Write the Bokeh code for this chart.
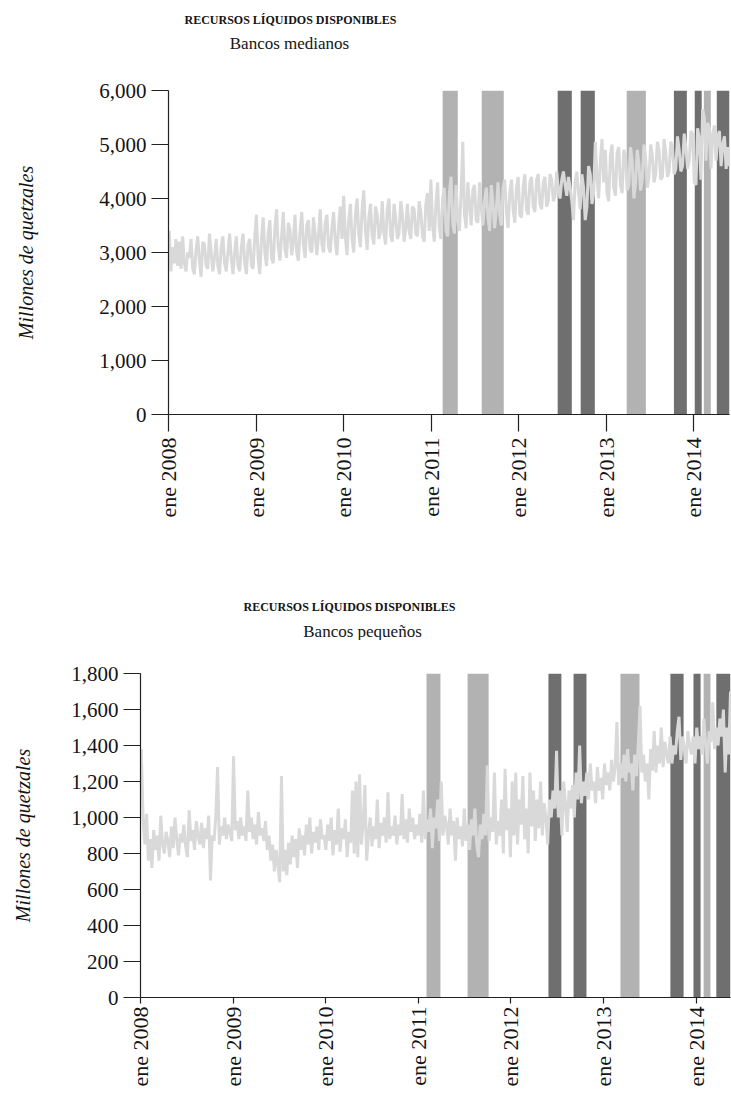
from math import pi

import pandas as pd
from bokeh.core.properties import value
from bokeh.embed import file_html
from bokeh.layouts import column
from bokeh.models import (DatetimeTickFormatter, FixedTicker,
                          NumeralTickFormatter, Range1d)
from bokeh.plotting import figure
from bokeh.resources import INLINE

FONT = "Liberation Serif"
TITULO = "RECURSOS LÍQUIDOS DISPONIBLES"
ETIQUETA_Y = "Millones de quetzales"
INICIO_EJE = "2008-01-01"
INICIO_SERIE = "2008-01-04"          # first weekly observation
TICKS_ANIO = ["2008-01-01", "2009-01-01", "2010-01-01", "2011-01-01",
              "2012-01-01", "2013-01-01", "2014-01-01"]

# Weekly liquid resources, medium-sized banks (millions of quetzales)
medianos_2008 = [3400, 2650, 3100, 2800, 3250, 2750, 3200, 2700, 3300, 2800, 2650, 3000,
                 2900, 3250, 2700, 2600, 3050, 3300, 2850, 2550, 3200, 3150, 2750, 2700,
                 3350, 3000, 2650, 2900, 3250, 2750, 2600, 3100, 3300, 2800, 2650, 3000,
                 3350, 2900, 2600, 3000, 3300, 2750, 2650, 3100, 3350, 2800, 2600, 3150,
                 3250, 2750, 2700, 3300]
medianos_2009 = [3700, 2900, 2600, 3250, 3650, 3000, 2750, 3350, 3600, 2900, 2800, 3450,
                 3800, 3100, 2850, 3300, 3750, 3050, 2900, 3550, 3400, 2950, 3200, 3700,
                 3000, 2850, 3400, 3750, 3150, 2900, 3500, 3600, 3050, 3000, 3650, 3350,
                 2950, 3300, 3800, 3150, 3000, 3550, 3700, 3100, 3000, 3450, 3750, 3200,
                 2950, 3500, 3850, 3250]
medianos_2010 = [4050, 3300, 2950, 3600, 3900, 3250, 3000, 3700, 4000, 3350, 3100, 3800,
                 4150, 3400, 3050, 3650, 3900, 3300, 3150, 3850, 3700, 3250, 3400, 3950,
                 3350, 3150, 3800, 4000, 3300, 3200, 3900, 3650, 3250, 3350, 3950, 3700,
                 3200, 3450, 3900, 3400, 3250, 3850, 3800, 3350, 3300, 3950, 3750, 3300,
                 3200, 3900, 4100, 3400]
medianos_2011 = [4350, 3500, 3200, 3900, 4300, 3450, 3250, 4000, 4200, 3400, 3300, 4100,
                 4400, 3550, 3350, 4250, 3600, 3400, 4100, 5050, 3700, 3450, 4300, 3900,
                 3500, 4150, 4250, 3600, 3550, 4300, 3850, 3500, 3950, 4200, 3650, 3400,
                 4250, 3900, 3450, 3800, 4300, 3700, 3500, 4200, 4350, 3750, 3450, 4100,
                 4350, 3800, 3550, 4200]
medianos_2012 = [4400, 3700, 3650, 4200, 4450, 3800, 3700, 4300, 4400, 3850, 3750, 4350,
                 4450, 3900, 3800, 4300, 4400, 3850, 3950, 4450, 4350, 3950, 4050, 4500,
                 4150, 4000, 4350, 4500, 4250, 4050, 4400, 4200, 3950, 3600, 4300, 4500,
                 4100, 3800, 4450, 4200, 3600, 3850, 4600, 4450, 3900, 4100, 5050, 4400,
                 4000, 4700, 5100, 4300]
medianos_2013 = [4900, 4100, 3950, 4800, 5000, 4200, 4050, 4850, 4950, 4250, 4100, 4900,
                 4800, 4150, 4250, 4950, 4700, 4000, 4300, 4900, 4650, 4150, 4350, 5000,
                 4750, 4200, 4400, 5000, 4800, 4300, 4450, 5050, 4900, 4350, 4400, 5100,
                 4850, 4400, 4500, 5050, 4950, 4450, 4550, 5150, 4900, 4500, 4600, 5200,
                 4950, 4550, 4700, 5250]
medianos_2014 = [5200, 4300, 4250, 5300, 5100, 4350, 5650, 5500, 4700, 5400, 5300, 4550,
                 5200, 5350, 4700, 5150, 5250, 4600, 5000, 5150, 4550, 4950, 4600]

# Weekly liquid resources, small banks (millions of quetzales)
pequenos_2008 = [1380, 1000, 850, 1020, 760, 880, 720, 930, 820, 900, 760, 1010, 850,
                 800, 920, 870, 780, 950, 830, 1000, 880, 790, 910, 860, 960, 840,
                 780, 1040, 870, 930, 820, 980, 900, 850, 970, 830, 940, 880, 1010,
                 650, 900, 870, 1000, 1280, 850, 950, 900, 1000, 880, 960, 920, 870]
pequenos_2009 = [1340, 930, 980, 880, 1000, 900, 950, 870, 1150, 920, 1000, 880, 960,
                 850, 1030, 900, 940, 870, 980, 820, 900, 760, 850, 700, 820, 740,
                 640, 1230, 700, 820, 680, 860, 740, 900, 780, 880, 720, 940, 820,
                 900, 790, 960, 850, 1000, 800, 920, 860, 950, 820, 990, 880, 900]
pequenos_2010 = [820, 960, 870, 1000, 790, 930, 850, 1050, 810, 940, 880, 990, 780,
                 920, 860, 1150, 800, 1200, 780, 1240, 850, 960, 1180, 760, 900, 1000,
                 840, 950, 880, 1100, 830, 970, 900, 1000, 860, 1140, 880, 950, 900,
                 1010, 850, 960, 900, 1130, 880, 990, 860, 1050, 920, 1000, 880, 960]
pequenos_2011 = [900, 1020, 860, 1150, 880, 990, 920, 1050, 830, 1000, 940, 1100, 870,
                 1200, 900, 1010, 960, 850, 1050, 900, 980, 760, 1000, 880, 950, 840,
                 1050, 870, 960, 820, 990, 900, 1050, 850, 780, 960, 880, 1020, 900,
                 1290, 870, 1000, 920, 1250, 850, 980, 900, 1100, 800, 1270, 930, 1050]
pequenos_2012 = [780, 1200, 900, 1250, 850, 1100, 960, 1230, 880, 1050, 800, 1250, 950,
                 1150, 870, 1100, 940, 1200, 900, 1080, 1000, 850, 1100, 1000, 1150, 1050,
                 1370, 1000, 1150, 900, 1200, 1080, 920, 1150, 1050, 1180, 1000, 1250, 1100,
                 1400, 1080, 1200, 1120, 1250, 1100, 1300, 1150, 1200, 1080, 1280, 1150, 1220]
pequenos_2013 = [1100, 1300, 1180, 1250, 1150, 1320, 1200, 1280, 1530, 1180, 1300, 1220, 1350,
                 1200, 1380, 1250, 1300, 1150, 1350, 1230, 1400, 1620, 1250, 1350, 1200, 1300,
                 1100, 1380, 1260, 1480, 1250, 1400, 1300, 1500, 1280, 1420, 1350, 1300, 1450,
                 1300, 1400, 1350, 1480, 1560, 1320, 1450, 1380, 1300, 1480, 1400, 1350, 1450]
pequenos_2014 = [1300, 1500, 1380, 1450, 1350, 1550, 1400, 1300, 1480, 1420, 1640, 1380,
                 1500, 1400, 1550, 1450, 1600, 1250, 1500, 1350, 1700]

# Shaded periods (light and dark bands) for each panel
medianos_claras_inicio = ["2011-02-18", "2011-07-31", "2013-03-27", "2014-02-12"]
medianos_claras_fin = ["2011-04-22", "2011-10-31", "2013-06-15", "2014-03-13"]
medianos_oscuras_inicio = ["2012-06-12", "2012-09-16", "2013-10-10", "2014-01-05", "2014-04-07"]
medianos_oscuras_fin = ["2012-08-10", "2012-11-14", "2013-12-03", "2014-02-03", "2014-05-30"]

pequenos_claras_inicio = ["2011-02-02", "2011-07-14", "2013-03-08", "2014-01-30"]
pequenos_claras_fin = ["2011-03-29", "2011-10-05", "2013-05-22", "2014-02-26"]
pequenos_oscuras_inicio = ["2012-05-28", "2012-09-04", "2013-09-21", "2013-12-21", "2014-03-21"]
pequenos_oscuras_fin = ["2012-07-18", "2012-10-25", "2013-11-12", "2014-01-18", "2014-05-16"]

medianos = (medianos_2008 + medianos_2009 + medianos_2010 + medianos_2011
            + medianos_2012 + medianos_2013 + medianos_2014)
pequenos = (pequenos_2008 + pequenos_2009 + pequenos_2010 + pequenos_2011
            + pequenos_2012 + pequenos_2013 + pequenos_2014)

COLOR_CLARA = "#b2b2b2"
COLOR_OSCURA = "#6f6f6f"
COLOR_LINEA = "#d9d9d9"
COLOR_TEXTO = "#141414"
COLOR_EJE = "#222222"
ANCHO = 731


def encabezado(subtitulo, alto, x_titulo, y_titulo, x_sub, y_sub):
    """Strip holding the small-caps heading and the panel subtitle."""
    t = figure(width=ANCHO, height=alto, output_backend="svg", toolbar_location=None,
               x_range=Range1d(0, ANCHO), y_range=Range1d(alto, 0),
               x_axis_location=None, y_axis_location=None,
               min_border=0, outline_line_color=None, frame_align=False)
    t.grid.visible = False
    t.text(x=[x_titulo], y=[y_titulo], text=[TITULO],
           text_font=value(FONT), text_font_size="12px", text_font_style="bold",
           text_color=COLOR_TEXTO, text_align="center", text_baseline="alphabetic")
    t.text(x=[x_sub], y=[y_sub], text=[subtitulo],
           text_font=value(FONT), text_font_size="17px",
           text_color=COLOR_TEXTO, text_align="center", text_baseline="alphabetic")
    return t


def panel(serie, claras, oscuras, y_max, y_paso, alto,
          borde_izq, borde_der, borde_sup, borde_inf, separacion_etiqueta,
          tick_x, separacion_x):
    fechas = pd.date_range(INICIO_SERIE, periods=len(serie), freq="7D")
    p = figure(width=ANCHO, height=alto, output_backend="svg", toolbar_location=None,
               x_axis_type="datetime",
               x_range=Range1d(pd.Timestamp(INICIO_EJE), fechas[-1]),
               y_range=Range1d(0, y_max),
               min_border_left=borde_izq, min_border_right=borde_der,
               min_border_top=borde_sup, min_border_bottom=borde_inf,
               frame_align=False)
    p.outline_line_color = None
    p.grid.visible = False

    p.quad(left=pd.to_datetime(claras[0]), right=pd.to_datetime(claras[1]),
           bottom=0, top=y_max, fill_color=COLOR_CLARA, line_color=None)
    p.quad(left=pd.to_datetime(oscuras[0]), right=pd.to_datetime(oscuras[1]),
           bottom=0, top=y_max, fill_color=COLOR_OSCURA, line_color=None)
    p.line(fechas, serie, line_color=COLOR_LINEA, line_width=3)

    for eje in (p.xaxis[0], p.yaxis[0]):
        eje.axis_line_color = COLOR_EJE
        eje.axis_line_width = 1.2
        eje.major_tick_line_color = COLOR_EJE
        eje.major_tick_line_width = 1.2
        eje.major_tick_out = 17
        eje.major_tick_in = 0
        eje.minor_tick_out = 0
        eje.minor_tick_in = 0
        eje.major_label_text_font = FONT
        eje.major_label_text_font_size = "21px"
        eje.major_label_text_color = COLOR_TEXTO
        eje.major_label_standoff = 5

    p.xaxis.ticker = FixedTicker(ticks=[pd.Timestamp(t).value // 10**6 for t in TICKS_ANIO])
    p.xaxis.formatter = DatetimeTickFormatter(years="ene %Y", months="ene %Y",
                                              days="ene %Y", hours="ene %Y")
    p.xaxis.major_label_orientation = pi / 2
    p.xaxis.major_label_text_font_size = "22px"
    p.xaxis.major_tick_out = tick_x
    p.xaxis.major_label_standoff = separacion_x
    p.yaxis.ticker = FixedTicker(ticks=list(range(0, y_max + 1, y_paso)))
    p.yaxis.formatter = NumeralTickFormatter(format="0,0")

    p.yaxis.axis_label = ETIQUETA_Y
    p.yaxis.axis_label_text_font = FONT
    p.yaxis.axis_label_text_font_size = "20px"
    p.yaxis.axis_label_text_font_style = "italic"
    p.yaxis.axis_label_text_color = COLOR_TEXTO
    p.yaxis.axis_label_standoff = separacion_etiqueta
    return p


t1 = encabezado("Bancos medianos", 60, 290, 19, 289, 43)
p1 = panel(medianos,
           (medianos_claras_inicio, medianos_claras_fin),
           (medianos_oscuras_inicio, medianos_oscuras_fin),
           6000, 1000, 500, 168, 2, 30, 146, 59, 17, 6)

t2 = encabezado("Bancos pequeños", 80, 349, 46, 362, 71)
p2 = panel(pequenos,
           (pequenos_claras_inicio, pequenos_claras_fin),
           (pequenos_oscuras_inicio, pequenos_oscuras_fin),
           1800, 200, 467, 140, 1, 33, 110, 34, 6, 3)

layout = column(t1, p1, t2, p2, spacing=0)
open("out.html", "w").write(file_html(layout, INLINE))
